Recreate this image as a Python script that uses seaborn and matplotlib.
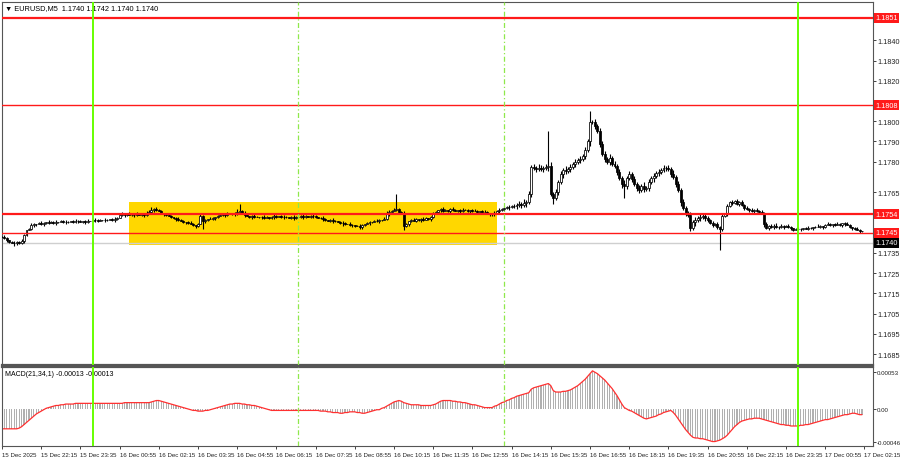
import numpy as np
import pandas as pd
import matplotlib
matplotlib.use("Agg")
import matplotlib.pyplot as plt
import seaborn as sns

# EURUSD M5, 15 Dec 20:55 -> 17 Dec 02:10, prices as pipettes above 1.17000
PRICE_BASE = 1.17
first_open = 430
closes_pts = [
    428, 425, 415, 405, 400, 398, 402, 400, 410, 440,
    462, 470, 488, 492, 490, 496, 494, 498, 500, 497,
    502, 499, 503, 500, 505, 502, 504, 501, 506, 503,
    507, 505, 503, 507, 504, 508, 506, 510, 512, 509,
    513, 510, 514, 512, 516, 514, 518, 524, 538, 542,
    538, 541, 536, 539, 535, 540, 537, 542, 538, 545,
    552, 560, 566, 560, 556, 548, 542, 535, 530, 525,
    520, 516, 512, 508, 503, 500, 496, 490, 487, 484,
    492, 530, 505, 512, 518, 515, 522, 528, 532, 536,
    540, 538, 543, 540, 546, 544, 552, 556, 545, 538,
    532, 528, 530, 526, 529, 525, 528, 524, 527, 523,
    526, 530, 527, 531, 528, 525, 528, 524, 527, 523,
    526, 528, 530, 527, 532, 528, 533, 530, 526, 522,
    520, 515, 512, 508, 510, 505, 507, 502, 498, 495,
    492, 490, 488, 486, 484, 482, 478, 488, 492, 496,
    500, 503, 506, 508, 510, 513, 515, 540, 550, 555,
    560, 565, 552, 545, 482, 492, 505, 512, 508, 515,
    510, 518, 514, 520, 516, 525, 540, 552, 560, 565,
    555, 562, 558, 565, 560, 556, 562, 558, 563, 560,
    556, 560, 555, 558, 552, 556, 550, 553, 548, 544,
    540, 548, 555, 560, 566, 570, 574, 578, 582, 580,
    586, 590, 588, 594, 600, 640, 776, 770, 765, 770,
    762, 770, 775, 780, 640, 620, 650, 700, 740, 760,
    755, 765, 775, 790, 800, 810, 815, 830, 860, 900,
    995, 995, 975, 950, 890, 840, 815, 800, 820, 790,
    780, 750, 720, 690, 680, 720, 740, 715, 690, 670,
    660, 680, 665, 672, 700, 720, 730, 745, 750, 760,
    768, 770, 765, 740, 725, 690, 660, 600, 570, 545,
    535, 475, 500, 510, 520, 525, 530, 522, 510, 495,
    488, 492, 480, 470, 530, 540, 580, 600, 595, 605,
    590, 600, 585, 570, 565, 560, 558, 563, 555, 552,
    545, 490, 475, 482, 478, 485, 480, 476, 482, 478,
    483, 479, 475, 463, 466, 470, 468, 473, 470, 475,
    472, 476, 480, 478, 483, 480, 486, 490, 487, 492,
    488, 491, 487, 495, 490, 486, 480, 475, 468, 462,
    458, 460,
]
# wick lengths in half pips, one digit per bar
up_wick = ("1210121121" "0121012102" "1120112101" "2110120121" "1021012102"
           "1120121012" "2312110121" "0121101210" "1211021012" "1021013112"
           "1012101210" "1210121012" "1012101210" "1210121012" "1021012101"
           "1012102321" "2411210121" "0121012101" "2101210121" "1012101210"
           "1212121212" "2324232324" "3232423232" "4232323232" "3232323242"
           "3232423232" "3242323232" "3232423232" "2323232321" "2121212121"
           "2121212121" "2121212121" "1210121012" "1012101210" "1210121012"
           "10")
down_wick = ("0121012112" "1012101211" "0121012101" "1201210121" "0121012101"
             "2101210121" "0121012101" "1210121012" "1012101210" "1210121012"
             "0121012101" "1210121012" "1012101210" "1210121012" "1012101210"
             "2101210121" "0121012101" "1210121012" "1012101210" "1210121012"
             "1212121212" "3232423232" "2324232324" "3232323232" "4232323232"
             "2324232323" "3232324232" "2323232423" "2323232321" "2121212121"
             "1212121212" "1212121212" "0121012101" "1210121012" "1012101210"
             "21")
spike_highs = {97: 592, 161: 641, 223: 950, 240: 1050}
spike_lows = {5: 385, 82: 468, 146: 470, 164: 462, 200: 532, 225: 590, 254: 620, 293: 365}

# MACD(21,34,1) main = signal, in 1e-5
macd_pts = [
    -28, -28, -28, -28, -28, -28, -28, -27, -25, -22,
    -19, -16, -13, -10, -7, -5, -3, -1, 1, 2,
    3, 4, 5, 5, 6, 6, 7, 7, 7, 7,
    8, 8, 8, 8, 8, 8, 8, 8, 8, 8,
    8, 8, 8, 8, 8, 8, 8, 8, 8, 8,
    9, 9, 9, 9, 9, 9, 9, 9, 9, 9,
    9, 10, 11, 12, 12, 11, 10, 9, 8, 7,
    6, 5, 4, 3, 2, 1, 0, -1, -2, -2,
    -3, -3, -3, -2, -2, -1, 0, 1, 2, 3,
    4, 5, 6, 7, 7, 8, 8, 8, 7, 7,
    6, 6, 5, 5, 4, 3, 2, 1, 0, -1,
    -2, -2, -2, -2, -2, -2, -2, -2, -2, -2,
    -2, -2, -2, -2, -2, -2, -2, -2, -2, -2,
    -3, -3, -3, -4, -4, -5, -5, -5, -6, -6,
    -5, -5, -4, -4, -4, -5, -5, -6, -6, -5,
    -4, -3, -2, -1, -1, 1, 2, 4, 6, 8,
    10, 11, 12, 11, 9, 8, 7, 6, 6, 6,
    6, 5, 5, 5, 5, 5, 6, 7, 9, 11,
    12, 12, 12, 12, 11, 11, 10, 10, 9, 9,
    8, 7, 6, 6, 5, 4, 3, 2, 2, 2,
    2, 4, 5, 7, 9, 10, 12, 13, 15, 16,
    18, 19, 20, 21, 22, 23, 28, 30, 31, 32,
    33, 34, 35, 36, 33, 26, 24, 24, 24, 25,
    25, 26, 27, 29, 31, 33, 36, 39, 42, 46,
    50, 54, 52, 50, 47, 44, 41, 37, 33, 29,
    24, 19, 13, 7, 2, 0, -2, -3, -5, -7,
    -9, -11, -13, -14, -13, -12, -11, -10, -8, -7,
    -5, -4, -3, -2, -5, -9, -14, -19, -24, -29,
    -33, -37, -40, -41, -41, -42, -42, -43, -44, -45,
    -46, -46, -45, -44, -42, -40, -37, -33, -29, -25,
    -22, -19, -17, -16, -15, -14, -14, -13, -13, -13,
    -14, -15, -16, -17, -18, -19, -20, -21, -22, -22,
    -23, -23, -24, -24, -24, -24, -23, -23, -22, -22,
    -21, -20, -19, -18, -17, -16, -15, -15, -14, -13,
    -12, -11, -10, -9, -8, -8, -7, -6, -6, -7,
    -8, -8,
]

time_labels = ["15 Dec 2025", "15 Dec 22:15", "15 Dec 23:35", "16 Dec 00:55", "16 Dec 02:15",
               "16 Dec 03:35", "16 Dec 04:55", "16 Dec 06:15", "16 Dec 07:35", "16 Dec 08:55",
               "16 Dec 10:15", "16 Dec 11:35", "16 Dec 12:55", "16 Dec 14:15", "16 Dec 15:35",
               "16 Dec 16:55", "16 Dec 18:15", "16 Dec 19:35", "16 Dec 20:55", "16 Dec 22:15",
               "16 Dec 23:35", "17 Dec 00:55", "17 Dec 02:15"]
bars_per_label = 16

red_levels = [1.1851, 1.1808, 1.1754, 1.1745]
red_widths = [1.6, 1.0, 1.6, 1.0]
bid_level = 1.1740
price_ticks = [1.1840, 1.1830, 1.1820, 1.1800, 1.1790, 1.1780, 1.1765,
               1.1735, 1.1725, 1.1715, 1.1705, 1.1695, 1.1685]
day_lines = [37, 325]        # bar index of midnight
session_lines = [121, 205]   # dashed green
box_start, box_end = 52, 202
box_low, box_high = 1.1739, 1.1760
macd_ticks = [0.00053, 0.0, -0.00046]
macd_tick_text = ["0.00053", "0.00", "-0.00046"]

# ---- build OHLC
df = pd.DataFrame({"close": PRICE_BASE + np.array(closes_pts) * 1e-5})
df["open"] = df["close"].shift(1).fillna(PRICE_BASE + first_open * 1e-5)
df["high"] = df[["open", "close"]].max(axis=1) + np.array([int(c) for c in up_wick]) * 5e-5
df["low"] = df[["open", "close"]].min(axis=1) - np.array([int(c) for c in down_wick]) * 5e-5
for k, v in spike_highs.items():
    df.loc[k, "high"] = PRICE_BASE + v * 1e-5
for k, v in spike_lows.items():
    df.loc[k, "low"] = PRICE_BASE + v * 1e-5
df["macd"] = np.array(macd_pts) * 1e-5
df["i"] = np.arange(len(df))

sns.set_theme(style="white")
plt.rcParams["font.family"] = ["Liberation Sans", "DejaVu Sans"]

fig = plt.figure(figsize=(9, 4.6), dpi=100)
W, H = 900, 460
ax = fig.add_axes([2 / W, 1 - 366 / H, 871 / W, 363 / H])
ax2 = fig.add_axes([2 / W, 1 - 447 / H, 871 / W, 79 / H], sharex=ax)

# yellow rectangle behind candles
ax.fill_between([box_start, box_end], box_low, box_high, color="#FFD700", lw=0, zorder=0.5)
ax.axhline(bid_level, color="#CFCFCF", lw=1.0, zorder=0.8)

# candles
bull = df["close"] >= df["open"]
body_lo = df[["open", "close"]].min(axis=1)
body_h = (df["close"] - df["open"]).abs().clip(lower=1.5e-5)
ax.vlines(df["i"], df["low"], df["high"], color="black", lw=0.8, zorder=3)
ax.bar(df["i"], body_h, bottom=body_lo, width=0.8,
       color=np.where(bull, "white", "black"), edgecolor="black", linewidth=0.55, zorder=3.5)

for lvl, lw in zip(red_levels, red_widths):
    ax.axhline(lvl, color="#FF1A1A", lw=lw, zorder=4)

for a in (ax, ax2):
    for d in day_lines:
        a.axvline(d, color="#66FF00", lw=1.4, zorder=5)
    for d in session_lines:
        a.axvline(d, color="#8FE84A", lw=0.9, ls=(0, (4, 2, 1, 2)), zorder=5)

ax.set_xlim(0, 355.5)
ax.set_ylim(1.16796, 1.18589)

# right price scale
ax.yaxis.tick_right()
ax.set_yticks(price_ticks)
ax.set_yticklabels([f"{t:.4f}" for t in price_ticks])
ax.tick_params(axis="y", labelsize=5.2, length=2, width=0.6, pad=1.5, colors="#222222", right=True)
ax.tick_params(axis="x", bottom=False, labelbottom=False)
ytr = ax.get_yaxis_transform()
for lvl in red_levels:
    ax.text(1.0025, lvl, f"{lvl:.4f}", transform=ytr, ha="left", va="center", fontsize=5.2,
            color="white", bbox=dict(boxstyle="square,pad=0.2", fc="#FF1A1A", ec="none"), clip_on=False)
ax.text(1.0025, bid_level, f"{bid_level:.4f}", transform=ytr, ha="left", va="center", fontsize=5.2,
        color="white", bbox=dict(boxstyle="square,pad=0.2", fc="black", ec="none"), clip_on=False)

ax.text(0.003, 0.993, "\u25BC EURUSD,M5  1.1740 1.1742 1.1740 1.1740", transform=ax.transAxes,
        ha="left", va="top", fontsize=5.3, color="black")

# MACD panel
ax2.bar(df["i"], df["macd"], width=0.45, color="#B0B0B0", lw=0, zorder=1)
sns.lineplot(x="i", y="macd", data=df, ax=ax2, color="#FF3030", lw=0.9, zorder=2)
ax2.set_ylim(-0.000523, 0.000594)
ax2.yaxis.tick_right()
ax2.set_yticks(macd_ticks)
ax2.set_yticklabels(macd_tick_text)
ax2.tick_params(axis="y", labelsize=4.4, length=2, width=0.6, pad=1.0, colors="#222222", right=True)
ax2.set_xticks(np.arange(len(time_labels)) * bars_per_label)
ax2.set_xticklabels(time_labels, ha="left")
ax2.tick_params(axis="x", labelsize=4.4, length=2, width=0.6, pad=2, colors="#222222", bottom=True)
ax2.set_xlabel("")
ax2.set_ylabel("")
ax2.text(0.003, 0.96, "MACD(21,34,1) -0.00013 -0.00013", transform=ax2.transAxes,
         ha="left", va="top", fontsize=5.0, color="black")

for a in (ax, ax2):
    for s in a.spines.values():
        s.set_color("#555555")
        s.set_linewidth(0.8)
ax.spines["bottom"].set_linewidth(1.6)
ax2.spines["top"].set_linewidth(1.6)

fig.savefig("out.png", dpi=100)
